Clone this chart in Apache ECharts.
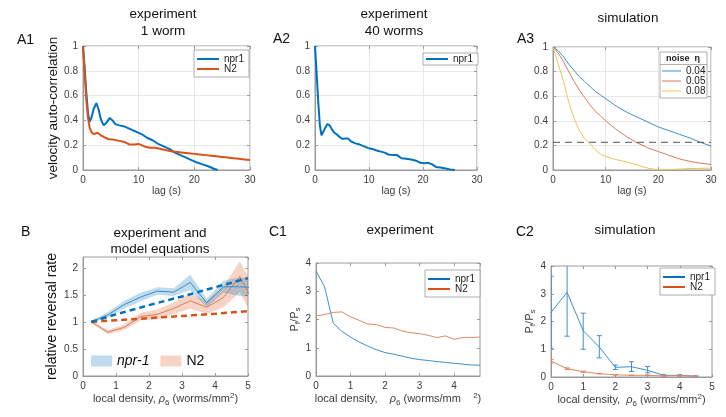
<!DOCTYPE html>
<html><head><meta charset="utf-8">
<script src="https://cdn.jsdelivr.net/npm/echarts@6/dist/echarts.min.js"></script>
<style>html,body{margin:0;padding:0;background:#fff}#c{width:726px;height:417px}</style>
</head><body><div id="c"></div>
<script>
// ---------- A1: experiment, 1 worm ----------
const a1NprLag = [0,0.3,0.6,0.9,1.2,1.5,1.9,2.4,2.8,3.2,3.7,4.2,4.8,5.3,5.8,6.5,7.5,8.5,9.5,10.5,11.5,12.5,13.5,14.5,15.5,16.5,17.5,18.5,19.5,20.5,21.5,22.5,23.5,24.2];
const a1NprVal = [1.0,0.82,0.62,0.46,0.39,0.42,0.49,0.54,0.49,0.41,0.36,0.38,0.42,0.40,0.37,0.36,0.35,0.33,0.31,0.29,0.26,0.24,0.21,0.19,0.17,0.14,0.12,0.10,0.08,0.06,0.045,0.03,0.01,0.0];
const a1N2Lag = [0,0.3,0.6,0.9,1.2,1.6,2.0,2.6,3.2,3.8,4.5,5.5,6.5,7.5,8.4,9.2,10,11,12,13,14,15,16,17,18,19,20,21,22,23,24,25,26,27,28,29,30];
const a1N2Val = [1.0,0.78,0.56,0.42,0.34,0.30,0.29,0.30,0.28,0.265,0.25,0.245,0.235,0.225,0.205,0.205,0.21,0.19,0.18,0.18,0.17,0.16,0.15,0.145,0.14,0.135,0.13,0.125,0.12,0.115,0.11,0.105,0.10,0.095,0.09,0.085,0.08];
// ---------- A2: experiment, 40 worms ----------
const a2Lag = [0,0.3,0.6,0.9,1.2,1.5,1.9,2.3,2.7,3.1,3.6,4.1,4.6,5.1,5.6,6.1,6.7,7.5,8.3,9.1,9.8,10.6,11.4,12.2,12.9,13.6,14.4,15.2,16.0,16.9,17.8,18.7,19.5,20.3,21.0,21.7,22.4,23.2,24.2,25.0,25.9];
const a2Val = [1.0,0.78,0.55,0.36,0.28,0.29,0.34,0.37,0.36,0.33,0.30,0.285,0.265,0.25,0.255,0.255,0.23,0.215,0.205,0.19,0.178,0.17,0.157,0.148,0.14,0.125,0.12,0.12,0.095,0.09,0.085,0.075,0.058,0.055,0.058,0.045,0.025,0.02,0.012,0.005,0.0];
// ---------- A3: simulation ----------
const a3Lag = [0,1,2,3,4,5,6,7,8,9,10,12,14,16,18,20,22,24,26,28,30];
const a3Eta004 = [1.0,0.97,0.92,0.86,0.81,0.76,0.72,0.68,0.64,0.61,0.58,0.52,0.47,0.43,0.39,0.35,0.32,0.29,0.26,0.225,0.195];
const a3Eta005 = [1.0,0.95,0.88,0.80,0.72,0.65,0.59,0.53,0.48,0.44,0.40,0.33,0.27,0.22,0.18,0.15,0.12,0.09,0.07,0.055,0.045];
const a3Eta008 = [1.0,0.86,0.72,0.55,0.42,0.32,0.255,0.215,0.165,0.13,0.11,0.085,0.065,0.04,0.015,0.0,0.003,0.008,0.012,0.013,0.015];
const a3Threshold = 0.225;
const a3Names = ['0.04','0.05','0.08'];
// ---------- B: relative reversal rate ----------
const bDensity = [0.25,0.75,1.25,1.75,2.25,2.75,3.25,3.75,4.25,4.75,5.25];
const bNprMean = [1.0,1.13,1.32,1.46,1.57,1.55,1.73,1.35,1.65,1.65,1.63];
const bNprLow  = [0.98,1.08,1.25,1.38,1.50,1.48,1.59,1.27,1.54,1.48,1.46];
const bNprHigh = [1.02,1.18,1.39,1.54,1.64,1.62,1.87,1.43,1.76,1.82,1.80];
const bN2Mean  = [1.0,0.81,0.9,1.1,1.14,1.25,1.39,1.27,1.45,1.84,1.27];
const bN2Low   = [0.98,0.77,0.85,1.03,1.05,1.14,1.25,1.15,1.27,1.55,0.97];
const bN2High  = [1.02,0.85,0.95,1.17,1.23,1.36,1.53,1.39,1.65,2.12,1.57];
const bModelX = [0.25,1,2,3,4,5];
const bModelNpr = [1.0,1.14,1.31,1.47,1.64,1.81];
const bModelN2 = [1.0,1.03,1.07,1.11,1.15,1.2];
// ---------- C1: experiment Pf/Ps ----------
const c1Density = [0,0.25,0.5,0.75,1,1.25,1.5,1.75,2,2.25,2.5,2.75,3,3.25,3.5,3.75,4,4.25,4.5,4.75];
const c1Npr = [3.72,3.15,1.87,1.58,1.38,1.2,1.06,0.93,0.83,0.77,0.7,0.63,0.58,0.55,0.51,0.48,0.45,0.42,0.39,0.38];
const c1N2  = [2.12,2.18,2.25,2.27,2.1,1.97,1.84,1.82,1.72,1.7,1.59,1.53,1.5,1.44,1.36,1.42,1.3,1.36,1.36,1.38];
// ---------- C2: simulation Pf/Ps ----------
const c2Density = [0,0.5,1,1.5,2,2.5,3,3.5,4,4.5];
const c2Npr     = [2.33,3.05,1.67,1.08,0.35,0.37,0.24,0.06,0.06,0.03];
const c2NprLow  = [1.04,1.47,1.0,0.69,0.27,0.2,0.15,0.04,0.04,0.02];
const c2NprHigh = [3.63,4.6,2.3,1.49,0.43,0.55,0.38,0.08,0.08,0.04];
const c2N2      = [0.57,0.3,0.19,0.12,0.08,0.06,0.06,0.04,0.05,0.02];
const c2N2Low   = [0.51,0.27,0.17,0.11,0.07,0.05,0.05,0.03,0.03,0.01];
const c2N2High  = [0.63,0.33,0.21,0.13,0.09,0.07,0.07,0.05,0.07,0.03];

const FONT = '"Liberation Sans", Arial, sans-serif';
const BLUE = '#0072BD', RED = '#D95319', YEL = '#EDB120';
const AXC = '#9a9a9a', TXC = '#3c3c3c';
const zip = (xs, ys) => xs.map((x, i) => [x, ys[i]]);

const gridBoxes = [
  [83, 46, 167, 124], [315, 46, 162, 124], [553, 47, 158, 123],
  [83, 257, 165, 119], [316, 263, 164, 113], [551, 266, 161, 111]
];
const grid = gridBoxes.map(b => ({left: b[0], top: b[1], width: b[2], height: b[3], show: true,
  borderColor: AXC, borderWidth: 1, backgroundColor: '#fff', containLabel: false, outerBoundsMode: 'none'}));

const richSub = {
  i: {fontStyle: 'italic', fontSize: 11, fontFamily: FONT, color: TXC},
  sub: {fontSize: 8, fontFamily: FONT, color: TXC, padding: [7, 0, 0, 0]},
  sup: {fontSize: 8, fontFamily: FONT, color: TXC, padding: [0, 0, 7, 0]}
};
function ax(gi, min, max, interval, extra) {
  const base = {
    type: 'value', gridIndex: gi, min: min, max: max, interval: interval,
    axisLine: {show: true, onZero: false, lineStyle: {color: AXC, width: 1}},
    axisTick: {show: true, inside: true, length: 3, lineStyle: {color: AXC}},
    axisLabel: {color: TXC, fontSize: 10, fontFamily: FONT, margin: 5, showMaxLabel: true},
    splitLine: {show: false},
    nameLocation: 'middle',
    nameTextStyle: {color: TXC, fontSize: 10.5, fontFamily: FONT, rich: richSub}
  };
  return Object.assign(base, extra || {});
}
function mirror(gi, min, max, interval, pos) {
  return {type: 'value', gridIndex: gi, min: min, max: max, interval: interval, position: pos,
    axisLine: {show: false, onZero: false}, axisLabel: {show: false}, splitLine: {show: false},
    axisTick: {show: true, inside: true, length: 3, lineStyle: {color: AXC}}};
}
const gridLine = {show: true, lineStyle: {color: '#e8e8e8', width: 1}};
const lagName = {name: 'lag (s)', nameGap: 16, splitLine: gridLine};
const xRanges = [[0,30,10],[0,30,10],[0,30,10],[0,5,1],[0,4.75,1],[0,5,1]];
const yRanges = [[0,1,0.2],[0,1,0.2],[0,1,0.2],[0,2.2,0.5],[0,4,1],[0,4,1]];

const xAxis = [
  ax(0, 0, 30, 10, lagName),
  ax(1, 0, 30, 10, lagName),
  ax(2, 0, 30, 10, lagName),
  ax(3, 0, 5, 1, {name: 'local density, {i|ρ}{sub|6} (worms/mm{sup|2})', nameGap: 14,
    nameTextStyle: {color: TXC, fontSize: 11, fontFamily: FONT, rich: richSub}}),
  ax(4, 0, 4.75, 1, {name: 'local density,    {i|ρ}{sub|6} (worms/mm    {sup|2})', nameGap: 12,
    axisLabel: {color: TXC, fontSize: 10, fontFamily: FONT, margin: 5, showMaxLabel: false},
    nameTextStyle: {color: TXC, fontSize: 11, fontFamily: FONT, rich: richSub}}),
  ax(5, 0, 5, 1, {name: 'local density,  {i|ρ}{sub|6} (worms/mm{sup|2})', nameGap: 15,
    nameTextStyle: {color: TXC, fontSize: 11, fontFamily: FONT, rich: richSub}})
].concat(xRanges.map((r, i) => mirror(i, r[0], r[1], r[2], 'top')));
const pName = 'P{s|f}/P{s|s}';
const pRich = {s: {fontSize: 8, fontFamily: FONT, color: TXC, padding: [6, 0, 0, 0]}};
const yAxis = [
  ax(0, 0, 1, 0.2, {name: 'velocity auto-correlation', nameGap: 22, splitLine: gridLine,
    nameTextStyle: {color: '#111', fontSize: 13.5, fontFamily: FONT}}),
  ax(1, 0, 1, 0.2, {splitLine: gridLine}),
  ax(2, 0, 1, 0.2, {splitLine: gridLine}),
  ax(3, 0, 2.2, 0.5, {name: 'relative reversal rate', nameGap: 24,
    axisLabel: {color: TXC, fontSize: 10, fontFamily: FONT, margin: 5, showMaxLabel: false},
    nameTextStyle: {color: '#111', fontSize: 14, fontFamily: FONT}}),
  ax(4, 0, 4, 1, {name: pName, nameGap: 9, nameTextStyle: {color: TXC, fontSize: 11, fontFamily: FONT, rich: pRich}}),
  ax(5, 0, 4, 1, {name: pName, nameGap: 12, nameTextStyle: {color: TXC, fontSize: 11, fontFamily: FONT, rich: pRich}})
].concat(yRanges.map((r, i) => mirror(i, r[0], r[1], r[2], 'right')));

function line(name, gi, data, color, width, extra) {
  return Object.assign({type: 'line', name: name, xAxisIndex: gi, yAxisIndex: gi, data: data,
    symbol: 'none', clip: true, silent: true, animation: false, z: 3,
    lineStyle: {color: color, width: width}, itemStyle: {color: color}}, extra || {});
}
function band(name, gi, xs, lo, hi, color) {
  return {type: 'custom', name: name, xAxisIndex: gi, yAxisIndex: gi, clip: true, silent: true, animation: false, z: 2,
    data: xs.map((x, i) => [x, lo[i], hi[i]]), encode: {x: 0, y: [1, 2]}, itemStyle: {color: color},
    renderItem: function (params, api) {
      if (params.dataIndexInside !== 0) return null;
      const n = params.dataInsideLength, top = [], bot = [];
      for (let i = 0; i < n; i++) {
        top.push(api.coord([api.value(0, i), api.value(2, i)]));
        bot.push(api.coord([api.value(0, i), api.value(1, i)]));
      }
      return {type: 'polygon', shape: {points: top.concat(bot.reverse())}, style: {fill: color, opacity: 0.25}};
    }};
}
function errBars(name, gi, xs, lo, hi, color) {
  return {type: 'custom', name: name, xAxisIndex: gi, yAxisIndex: gi, clip: true, silent: true, animation: false,
    data: xs.map((x, i) => [x, lo[i], hi[i]]), encode: {x: 0, y: [1, 2]},
    renderItem: function (params, api) {
      const p1 = api.coord([api.value(0), api.value(1)]);
      const p2 = api.coord([api.value(0), api.value(2)]);
      const w = 2.5, st = {stroke: color, lineWidth: 1};
      return {type: 'group', children: [
        {type: 'line', shape: {x1: p1[0], y1: p1[1], x2: p2[0], y2: p2[1]}, style: st},
        {type: 'line', shape: {x1: p1[0] - w, y1: p1[1], x2: p1[0] + w, y2: p1[1]}, style: st},
        {type: 'line', shape: {x1: p2[0] - w, y1: p2[1], x2: p2[0] + w, y2: p2[1]}, style: st}
      ]};
    }};
}

const series = [
  line('npr1', 0, zip(a1NprLag, a1NprVal), BLUE, 2),
  line('N2', 0, zip(a1N2Lag, a1N2Val), RED, 2),
  line('npr1', 1, zip(a2Lag, a2Val), BLUE, 2),
  line(a3Names[0], 2, zip(a3Lag, a3Eta004), '#3d8fd0', 1),
  line(a3Names[1], 2, zip(a3Lag, a3Eta005), '#d97a5c', 1),
  line(a3Names[2], 2, zip(a3Lag, a3Eta008), '#efc35a', 1),
  line('_thr', 2, [[0, a3Threshold], [30, a3Threshold]], '#555', 1, {lineStyle: {color: '#555', width: 1, type: [7, 5]}}),
  band('N2', 3, bDensity, bN2Low, bN2High, RED),
  band('npr-1', 3, bDensity, bNprLow, bNprHigh, BLUE),
  line('_bn2', 3, zip(bDensity, bN2Mean), '#e07b55', 1),
  line('_bnpr', 3, zip(bDensity, bNprMean), '#3a8ccc', 1),
  line('_mn2', 3, zip(bModelX, bModelN2), RED, 2.5, {lineStyle: {color: RED, width: 2.5, type: [6, 4]}}),
  line('_mnpr', 3, zip(bModelX, bModelNpr), BLUE, 2.5, {lineStyle: {color: BLUE, width: 2.5, type: [6, 4]}}),
  line('npr1', 4, zip(c1Density, c1Npr), '#3f8fcf', 1),
  line('N2', 4, zip(c1Density, c1N2), '#e08866', 1),
  line('npr1', 5, zip(c2Density, c2Npr), '#3f8fcf', 1),
  line('N2', 5, zip(c2Density, c2N2), '#e08866', 1),
  errBars('_enpr', 5, c2Density, c2NprLow, c2NprHigh, '#3f8fcf'),
  errBars('_en2', 5, c2Density, c2N2Low, c2N2High, '#e08866')
];

function lineLegend(names, left, top, colors, h, pad) {
  return {show: true, orient: 'vertical', left: left, top: top, itemGap: 0, itemWidth: 22, itemHeight: h,
    padding: pad || [4, 5, 3, 3], backgroundColor: '#fff', borderColor: '#9a9a9a', borderWidth: 0.8, borderRadius: 0,
    selectedMode: false, icon: 'rect', itemStyle: {borderWidth: 0},
    textStyle: {fontSize: 10, fontFamily: FONT, color: '#222', lineHeight: 10, padding: [0, 0, 0, 0]},
    data: names.map((n, i) => ({name: n, icon: 'rect', itemStyle: {color: colors[i], borderWidth: 0}}))};
}
const legend = [
  lineLegend(['npr1', 'N2'], 194, 50, [BLUE, RED], 2),
  lineLegend(['npr1'], 423, 53, [BLUE], 2, [1, 5, 1, 3]),
  Object.assign(lineLegend(a3Names, 660, 66, ['#3d8fd0', '#d97a5c', '#efc35a'], 1, [0, 2, 0, 2]),
    {backgroundColor: 'transparent', borderWidth: 0, itemWidth: 19}),
  {show: true, orient: 'horizontal', left: 91, top: 354, itemGap: 11, itemWidth: 21, itemHeight: 11, padding: 0,
   selectedMode: false, icon: 'rect', itemStyle: {borderWidth: 0},
   textStyle: {fontSize: 14, fontFamily: FONT, color: '#111'},
   data: [{name: 'npr-1', icon: 'rect', itemStyle: {color: 'rgba(0,114,189,0.25)', borderWidth: 0}, textStyle: {fontStyle: 'italic', fontSize: 14, color: '#111'}},
          {name: 'N2', icon: 'rect', itemStyle: {color: 'rgba(217,83,25,0.25)', borderWidth: 0}, textStyle: {fontSize: 14, color: '#111'}}]},
  lineLegend(['npr1', 'N2'], 425, 270, [BLUE, RED], 2),
  lineLegend(['npr1', 'N2'], 660, 268, [BLUE, RED], 2)
];

function txt(text, x, y, size, align, extra) {
  return {type: 'text', x: x, y: y, z: 10, silent: true,
    style: Object.assign({text: text, fontSize: size, fontFamily: FONT, fill: '#111', textAlign: align || 'center',
      textVerticalAlign: 'middle', lineHeight: 17}, extra || {})};
}
const graphic = [
  txt('experiment\n1 worm', 163, 22.5, 13.5),
  txt('experiment\n40 worms', 394, 22.5, 13.5),
  txt('simulation', 628, 18, 13.5),
  txt('experiment and\nmodel equations', 160, 241, 13.5, 'center', {lineHeight: 16}),
  txt('experiment', 400, 230, 13.5),
  txt('simulation', 625, 230, 13.5),
  txt('A1', 17, 40, 14, 'left'),
  txt('A2', 273, 39, 14, 'left'),
  txt('A3', 517, 39, 14, 'left'),
  txt('B', 21, 232, 14, 'left'),
  txt('C1', 269, 232, 14, 'left'),
  txt('C2', 516, 232, 14, 'left'),
  {type: 'rect', z: 3, silent: true, shape: {x: 660, y: 52, width: 47, height: 46}, style: {fill: '#fff', stroke: '#9a9a9a', lineWidth: 0.8}},
  {type: 'line', z: 3, silent: true, shape: {x1: 660, y1: 64.5, x2: 707, y2: 64.5}, style: {stroke: '#9a9a9a', lineWidth: 0.8}},
  txt('noise  η', 683, 58.5, 9, 'center', {fontWeight: 'bold', fill: '#222'})
];

const chart = echarts.init(document.getElementById('c'), null, {renderer: 'canvas'});
chart.setOption({animation: false, backgroundColor: '#fff', grid: grid, xAxis: xAxis, yAxis: yAxis,
  series: series, legend: legend, graphic: graphic});
</script></body></html>
